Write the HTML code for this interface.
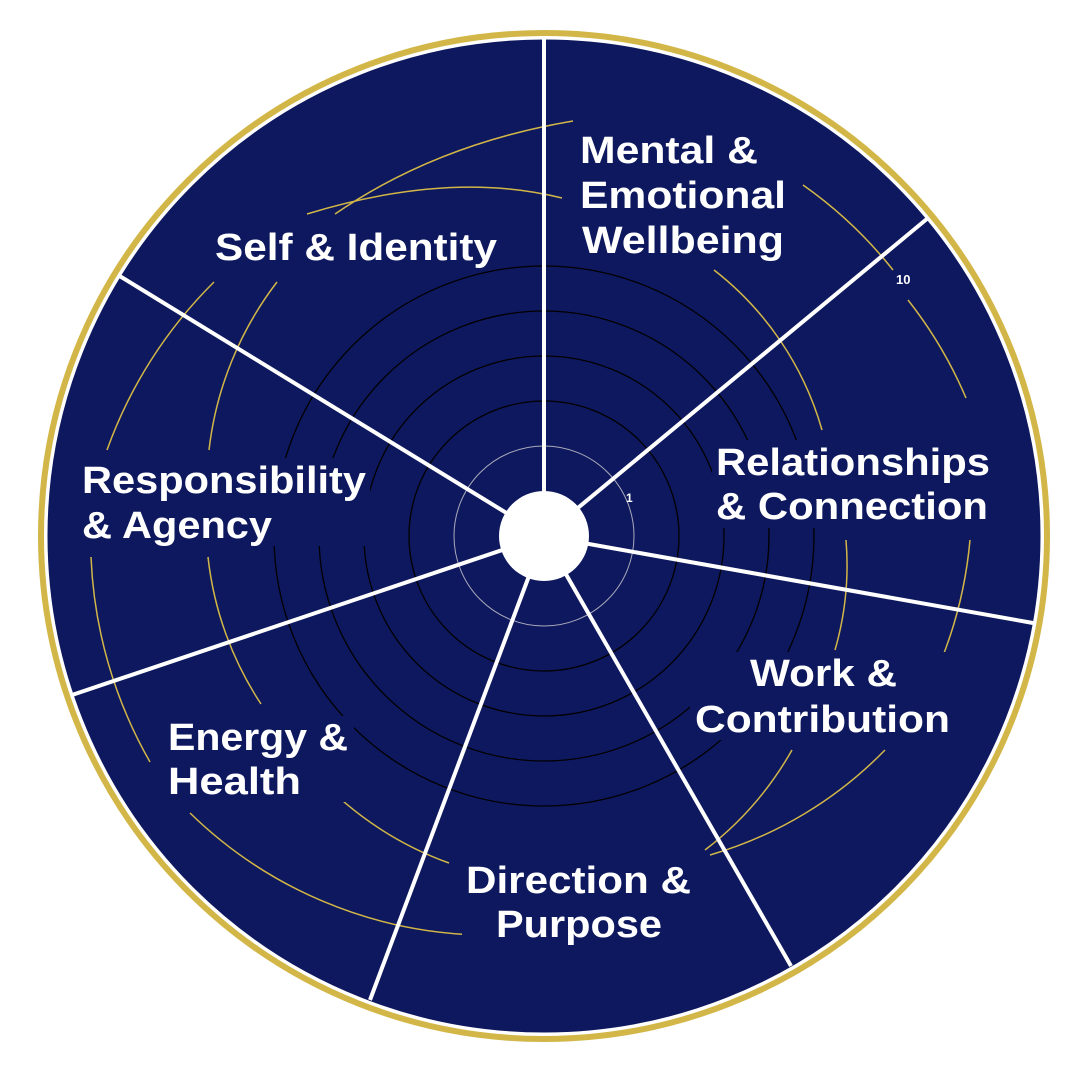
<!DOCTYPE html>
<html><head><meta charset="utf-8"><style>
html,body{margin:0;padding:0;background:#fff;}
svg{display:block}
text{font-family:"Liberation Sans",sans-serif;font-weight:bold;fill:#fff;}
</style></head><body>
<svg width="1080" height="1080" viewBox="0 0 1080 1080" xmlns="http://www.w3.org/2000/svg">
<circle cx="544" cy="536" r="503" fill="none" stroke="#D2B748" stroke-width="6"/>
<circle cx="544" cy="536" r="498" fill="#0E185E" stroke="#fff" stroke-width="3"/>
<g fill="none" stroke="#000" stroke-width="1.3">
<circle cx="544" cy="536" r="135"/><circle cx="544" cy="536" r="180"/><circle cx="544" cy="536" r="225"/><circle cx="544" cy="536" r="270"/>
</g>
<circle cx="544" cy="536" r="90" fill="none" stroke="#aab" stroke-width="1"/>
<g fill="none" stroke="#D2B748" stroke-width="1.5">
<path d="M714 270 A310 310 0 0 1 822 430"/>
<path d="M803 185 A430 430 0 0 1 893 270"/>
<path d="M908 300 A430 430 0 0 1 966 398"/>
<path d="M846 540 A305 305 0 0 1 835 650"/>
<path d="M970 540 A428 428 0 0 1 928 690"/>
<path d="M792 750 A330 330 0 0 1 705 850"/>
<path d="M885 750 A400 400 0 0 1 710 855"/>
<path d="M478 935 A430 430 0 0 1 190 813"/>
<path d="M449 863 A335 335 0 0 1 318 777"/>
<path d="M261 704 A333 333 0 0 1 208 557"/>
<path d="M150 762 A450 450 0 0 1 91 557"/>
<path d="M107 450 A450 450 0 0 1 214 282"/>
<path d="M209 450 A340 340 0 0 1 277 282"/>
<path d="M335 214 Q437 144 573 121"/>
<path d="M307 214 Q450 170 562 198"/>
</g>
<g stroke="#fff" stroke-width="4" stroke-linecap="butt">
<line x1="544" y1="536" x2="544" y2="38"/>
<line x1="544" y1="536" x2="928" y2="218"/>
<line x1="544" y1="536" x2="1033" y2="623"/>
<line x1="544" y1="536" x2="791" y2="966"/>
<line x1="544" y1="536" x2="370" y2="1000"/>
<line x1="544" y1="536" x2="72" y2="695"/>
<line x1="544" y1="536" x2="118" y2="275"/>
</g>
<circle cx="544" cy="536" r="45" fill="#fff"/>
<g fill="#0E185E">
<rect x="576" y="128" width="214" height="135"/>
<rect x="210" y="225" width="292" height="42"/>
<rect x="712" y="440" width="282" height="88"/>
<rect x="78" y="458" width="292" height="88"/>
<rect x="690" y="652" width="264" height="88"/>
<rect x="164" y="716" width="190" height="86"/>
<rect x="462" y="858" width="234" height="86"/>
<rect x="894" y="268" width="24" height="16"/>
</g>
<g font-size="38">
<text x="580" y="163" textLength="178" lengthAdjust="spacingAndGlyphs">Mental &amp;</text>
<text x="580" y="208" textLength="206" lengthAdjust="spacingAndGlyphs">Emotional</text>
<text x="582" y="253" textLength="202" lengthAdjust="spacingAndGlyphs">Wellbeing</text>
<text x="215" y="260" textLength="282" lengthAdjust="spacingAndGlyphs">Self &amp; Identity</text>
<text x="716" y="475" textLength="274" lengthAdjust="spacingAndGlyphs">Relationships</text>
<text x="716" y="519" textLength="272" lengthAdjust="spacingAndGlyphs">&amp; Connection</text>
<text x="82" y="493" textLength="284" lengthAdjust="spacingAndGlyphs">Responsibility</text>
<text x="82" y="538" textLength="190" lengthAdjust="spacingAndGlyphs">&amp; Agency</text>
<text x="750" y="686" textLength="147" lengthAdjust="spacingAndGlyphs">Work &amp;</text>
<text x="695" y="732" textLength="255" lengthAdjust="spacingAndGlyphs">Contribution</text>
<text x="168" y="750" textLength="180" lengthAdjust="spacingAndGlyphs">Energy &amp;</text>
<text x="168" y="794" textLength="133" lengthAdjust="spacingAndGlyphs">Health</text>
<text x="466" y="893" textLength="225" lengthAdjust="spacingAndGlyphs">Direction &amp;</text>
<text x="496" y="937" textLength="166" lengthAdjust="spacingAndGlyphs">Purpose</text>
</g>
<text x="896" y="284" font-size="13" font-weight="normal">10</text>
<text x="626" y="502" font-size="12" font-weight="normal">1</text>
</svg>
</body></html>
